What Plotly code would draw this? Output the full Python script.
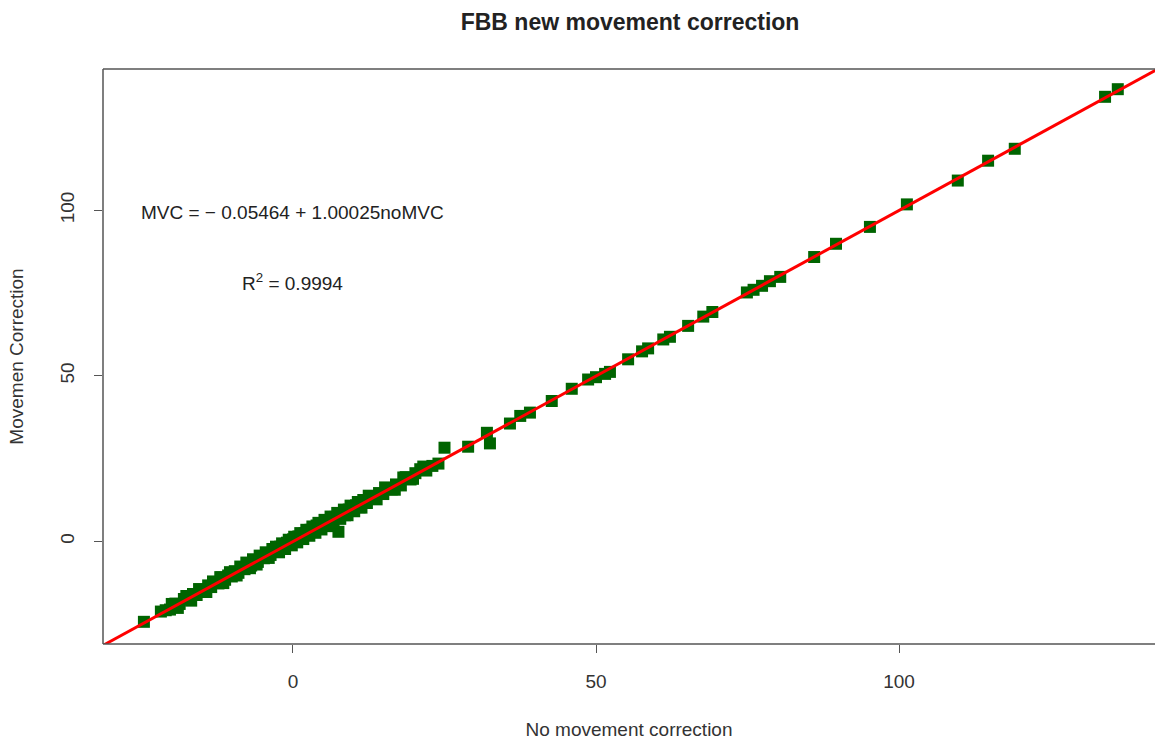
import plotly.graph_objects as go

# ---- data ----
no_mvc = [
    -24.6, -21.8, -21.0, -20.3, -19.4, -18.7, -18.0, -17.2, -16.5, -15.9,
    -15.2, -14.6, -14.0, -13.5, -12.9, -12.3, -11.8, -11.2, -10.7, -10.1,
    -9.6, -9.0, -8.5, -8.0, -7.4, -6.9, -6.3, -5.8, -5.3, -4.8,
    -4.2, -3.7, -3.1, -2.6, -2.1, -1.6, -1.0, -0.5, 0.0, 0.4,
    0.9, 1.4, 1.9, 2.4, 2.9, 3.4, 3.9, 4.4, 4.9, 5.4,
    5.9, 6.4, 7.0, 7.5, 8.1, 8.6, 9.2, 9.8, 10.4, 11.0,
    11.6, 12.2, 12.8, 13.5, 14.2, 14.9, 15.6, 16.3, 17.0, 17.8,
    18.6, 19.4, 20.2, 21.0, 22.0, 23.0, 24.0, 25.0,
    -20.0, -19.0, -17.6, -16.8, -15.5, -14.3, -13.2, -12.0, -11.5, -10.4,
    -9.3, -8.7, -7.7, -7.1, -6.6, -6.0, -5.5, -4.5, -4.0, -3.4,
    -2.8, -2.3, -1.8, -1.3, -0.7, -0.2, 0.2, 0.7, 1.2, 1.7,
    2.2, 2.7, 3.2, 3.7, 4.2, 4.7, 5.2, 5.7, 6.2, 6.7,
    7.3, 7.8, 8.4, 9.0, 9.5, 10.1, 10.7, 11.3, 12.5, 13.8,
    15.2, 16.8, 18.2, 19.8, 21.5,
    28.9, 32.0, 32.5, 35.8, 37.5, 39.1, 42.7, 46.0, 48.7, 50.0,
    51.5, 52.3, 55.3, 57.6, 58.6, 61.1, 62.2, 65.2, 67.7, 69.2,
    74.9, 76.0, 77.4, 78.7, 80.4, 86.0, 89.6, 95.2, 101.3, 109.7,
    114.7, 119.1, 134.0, 136.1,
]
mvc = [
    -24.3, -21.2, -20.8, -20.6, -18.8, -18.9, -17.4, -17.5, -15.9, -16.2,
    -14.6, -14.9, -13.3, -13.8, -12.4, -12.7, -10.9, -11.6, -10.3, -10.6,
    -9.0, -9.5, -7.9, -8.4, -6.8, -7.3, -5.8, -6.2, -4.7, -5.1,
    -3.6, -4.1, -2.5, -3.0, -1.6, -1.9, -0.4, -0.9, 0.6, 0.0,
    1.5, 1.0, 2.4, 1.9, 3.5, 2.8, 4.8, 3.9, 5.5, 4.9,
    6.3, 5.8, 7.4, 2.9, 8.5, 7.9, 9.6, 9.2, 10.9, 10.3,
    12.5, 11.6, 13.1, 12.9, 14.6, 14.3, 16.1, 15.7, 17.2, 16.9,
    19.4, 18.7, 20.6, 21.8, 21.4, 22.8, 23.5, 28.3,
    -18.9, -20.1, -16.5, -17.9, -14.4, -15.3, -12.1, -10.8, -12.6, -9.3,
    -10.3, -7.6, -6.4, -8.1, -5.4, -7.0, -4.3, -3.3, -5.0, -2.3,
    -1.6, -3.3, -0.6, -2.3, 0.5, -1.2, 1.4, -0.3, 2.5, 0.7,
    3.5, 1.7, 4.5, 2.6, 5.6, 3.6, 6.5, 4.6, 7.5, 5.6,
    8.6, 6.8, 9.6, 7.9, 10.8, 9.1, 11.9, 10.2, 13.8, 12.7,
    16.3, 15.6, 19.3, 18.9, 22.6,
    28.6, 32.8, 29.6, 35.6, 37.9, 38.9, 42.4, 46.1, 48.9, 49.6,
    50.6, 51.2, 55.0, 57.4, 58.3, 61.0, 61.8, 65.1, 67.9, 69.3,
    75.2, 76.0, 77.2, 78.6, 79.9, 85.9, 89.9, 95.0, 101.8, 109.0,
    115.0, 118.6, 134.3, 136.6,
]
fit_intercept = -0.05464
fit_slope = 1.00025
fit_x = [-40, 150]
fit_y = [fit_intercept + fit_slope * v for v in fit_x]

x_ticks = [0, 50, 100]
y_ticks = [0, 50, 100]

title_text = "FBB new movement correction"
x_title = "No movement correction"
y_title = "Movemen Correction"
eq_text = "MVC = − 0.05464 + 1.00025noMVC"
r2_text = "R<sup>2</sup> = 0.9994"

FONT = "Liberation Sans, Arial, sans-serif"
AXC = "#555555"

fig = go.Figure()
fig.add_trace(go.Scatter(
    x=no_mvc, y=mvc, mode="markers",
    marker=dict(symbol="square", size=12, color="#006400", line=dict(width=0)),
    showlegend=False, hoverinfo="skip",
))
fig.add_trace(go.Scatter(
    x=fit_x, y=fit_y, mode="lines",
    line=dict(color="#ff0000", width=3),
    showlegend=False, hoverinfo="skip",
))

fig.add_annotation(x=0, y=99.5, xref="x", yref="y", text=eq_text,
                   showarrow=False, xanchor="center", yanchor="middle",
                   font=dict(family=FONT, size=19, color="#222222"))
fig.add_annotation(x=0, y=78.5, xref="x", yref="y", text=r2_text,
                   showarrow=False, xanchor="center", yanchor="middle",
                   font=dict(family=FONT, size=19, color="#222222"))

# box: left, top, bottom (right edge is cropped in the reference)
for x0, y0, x1, y1 in [(0, 0, 0, 1), (0, 1, 1, 1), (0, 0, 1, 0)]:
    fig.add_shape(type="line", xref="paper", yref="paper",
                  x0=x0, y0=y0, x1=x1, y1=y1,
                  line=dict(color=AXC, width=1.5))

fig.update_layout(
    width=1155, height=745,
    margin=dict(l=103, r=0, t=69, b=101),
    paper_bgcolor="white", plot_bgcolor="white",
    font=dict(family=FONT, color="#222222"),
    title=dict(text="<b>" + title_text + "</b>", x=0.5455, xanchor="center",
               y=0.970, yanchor="middle",
               font=dict(family=FONT, size=23, color="#222222")),
    xaxis=dict(range=[-31.35, 142.24], tickvals=x_ticks, showgrid=False,
               zeroline=False, showline=False, ticks="outside", ticklen=8,
               tickcolor=AXC, tickwidth=1.3, ticklabelstandoff=12,
               tickfont=dict(family=FONT, size=19, color="#333333"),
               title=dict(text=x_title, standoff=31,
                          font=dict(family=FONT, size=19, color="#333333"))),
    yaxis=dict(range=[-31.0, 142.7], tickvals=y_ticks, showgrid=False,
               zeroline=False, showline=False, ticks="outside", ticklen=8,
               tickcolor=AXC, tickwidth=1.3, tickangle=-90, ticklabelstandoff=12,
               tickfont=dict(family=FONT, size=19, color="#333333"),
               title=dict(text=y_title, standoff=28,
                          font=dict(family=FONT, size=19, color="#333333"))),
)

fig.write_html("out.html", config={"displayModeBar": False},
               post_script="document.body.style.margin='0';document.body.style.overflow='hidden';")
